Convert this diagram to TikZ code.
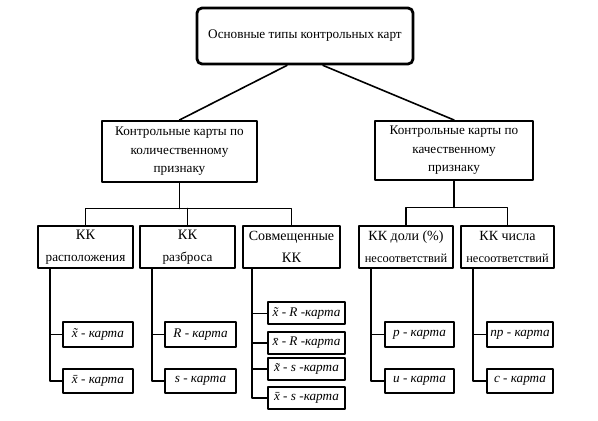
\documentclass[tikz,border=0pt]{standalone}
\usepackage{fontspec}
\setmainfont{Liberation Serif}
\usetikzlibrary{arrows.meta, calc, positioning}

\begin{document}
\begin{tikzpicture}[x=0.5pt, y=-0.5pt, >=Latex, line cap=round, line join=round,
	font=\fontsize{6.6}{9.3}\selectfont,
	box/.style={draw, line width=1pt, align=center, inner sep=1pt},
	group/.style={box, minimum height=21pt},
	leaf/.style={box, font=\fontsize{6.6}{8}\selectfont\itshape},
	combleaf/.style={leaf, minimum width=38.5pt, minimum height=11pt},
	link/.style={line width=0.8pt}]
	
	\useasboundingbox (0,0) rectangle (598,421);
	
	% ===============================
	% ======= TOP AND SECOND ROW =====
	% ===============================
	\node[box, rounded corners=2.5pt, line width=1.4pt,
	minimum width=108pt, minimum height=28pt] (types) at (305,36)
	{Основные типы контрольных карт};
	
	\node[box, minimum width=77.5pt, minimum height=30.5pt] (quant) at (179.5,151.5)
	{Контрольные карты по\\количественному\\признаку};
	\node[box, minimum width=79pt, minimum height=29.5pt] (qual) at (454,150.5)
	{Контрольные карты по\\качественному\\признаку};
	
	\draw[link] ($(types.south)+(-18,0)$) -- (quant.north);
	\draw[link] ($(types.south)+(18,0)$) -- (qual.north);
	
	% ===============================
	% ========= THIRD ROW ===========
	% ===============================
	\node[group, minimum width=47.5pt] (loc) at (85.5,247)
	{{\fontsize{7.2}{9}\selectfont КК}\\[1.5pt]расположения};
	\node[group, minimum width=47.5pt] (spread) at (187.5,247)
	{{\fontsize{7.2}{9}\selectfont КК}\\[1.5pt]разброса};
	\node[group, minimum width=48.5pt] (comb) at (291.5,247)
	{{\fontsize{7}{9}\selectfont Совмещенные}\\[1.5pt]{\fontsize{7.2}{9}\selectfont КК}};
	\node[group, minimum width=47pt] (frac) at (406,247)
	{{\fontsize{7}{9}\selectfont КК доли (\%)}\\[1.5pt]{\fontsize{6.2}{8}\selectfont несоответствий}};
	\node[group, minimum width=46.5pt] (num) at (507.5,247)
	{{\fontsize{7}{9}\selectfont КК числа}\\[1.5pt]{\fontsize{6.2}{8}\selectfont несоответствий}};
	
	% bus lines under the second row
	\draw[link] (quant.south) -- ++(0,25.5) coordinate (qbus);
	\draw[link] (loc.north) |- (qbus) -| (comb.north);
	\draw[link] (spread.north) -- (spread.north |- qbus);
	\draw[link] (qual.south) -- ++(0,26.5) coordinate (lbus);
	\draw[link] (frac.north) |- (lbus) -| (num.north);
	
	% ===============================
	% ========= CHART LEAVES ========
	% ===============================
	\node[leaf, minimum width=35pt, minimum height=12.5pt] (xmed) at (98,334.5) {\~{x} - карта};
	\node[leaf, minimum width=35pt, minimum height=12pt] (xmean) at (98,381) {\={x} - карта};
	\node[leaf, minimum width=35.5pt, minimum height=12.5pt] (rng) at (200.5,334.5) {R - карта};
	\node[leaf, minimum width=35.5pt, minimum height=12pt] (sd) at (200.5,381) {s - карта};
	
	\node[combleaf] (ca) at (306.5,313.5) {\~{x} - R -карта};
	\node[combleaf] (cb) at (306.5,343) {\={x} - R -карта};
	\node[combleaf] (cc) at (306.5,369) {\~{x} - s -карта};
	\node[combleaf] (cd) at (306.5,398) {\={x} - s -карта};
	
	\node[leaf, minimum width=34.5pt, minimum height=12.5pt] (pch) at (419.5,334.5) {p - карта};
	\node[leaf, minimum width=34.5pt, minimum height=12pt] (uch) at (419.5,381) {u - карта};
	\node[leaf, minimum width=33pt, minimum height=12.5pt] (npch) at (520,334.5) {np - карта};
	\node[leaf, minimum width=33pt, minimum height=12pt] (cch) at (520,381) {c - карта};
	
	% tree lines to the leaves
	\foreach \grp/\a/\b in {loc/xmed/xmean, spread/rng/sd, frac/pch/uch, num/npch/cch}{
		\draw[link] ($(\grp.south west)+(13,0)$) |- (\a.west);
		\draw[link] ($(\grp.south west)+(13,0)$) |- (\b.west);
	}
	\foreach \k in {ca,cb,cc,cd}
	\draw[link] ($(comb.south west)+(10,0)$) |- (\k.west);
	
\end{tikzpicture}
\end{document}
